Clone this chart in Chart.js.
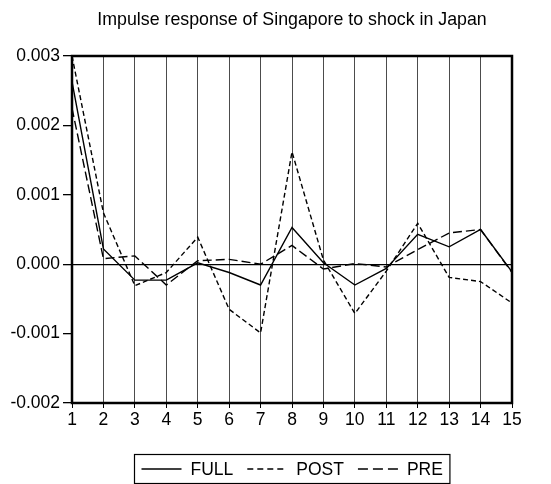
<!DOCTYPE html>
<html>
<head>
<meta charset="utf-8">
<script src="https://cdn.jsdelivr.net/npm/chart.js@4/dist/chart.umd.min.js"></script>
<style>
  html, body { margin: 0; padding: 0; background: #fff; }
  #wrap { width: 551px; height: 484px; position: relative; }
</style>
</head>
<body>
<div id="wrap"><canvas id="irfChart" width="551" height="484"></canvas></div>
<script>
const chartTitle = 'Impulse response of Singapore to shock in Japan';
const periods = ['1', '2', '3', '4', '5', '6', '7', '8', '9', '10', '11', '12', '13', '14', '15'];
const full = [0.00263, 0.00022, -0.00023, -0.00023, 0.00002, -0.00012, -0.00030, 0.00053, 0.00002, -0.00030, -0.00006, 0.00043, 0.00025, 0.00050, -0.00011];
const post = [0.00300, 0.00074, -0.00031, -0.00012, 0.00039, -0.00065, -0.00099, 0.00162, 0.00006, -0.00071, -0.00010, 0.00059, -0.00019, -0.00025, -0.00056];
const pre = [0.00225, 0.00008, 0.00012, -0.00030, 0.00005, 0.00007, 0.00000, 0.00027, -0.00007, 0.00001, -0.00004, 0.00021, 0.00045, 0.00050, -0.00012];
const yTicks = [-0.002, -0.001, 0.000, 0.001, 0.002, 0.003];

const FONT = '"Liberation Sans", Arial, sans-serif';

// title, frame and legend drawn by hand
const decorations = {
    id: 'decorations',
    afterDraw(chart) {
        const ctx = chart.ctx;
        const a = chart.chartArea;
        ctx.save();
        ctx.strokeStyle = '#000';
        ctx.lineWidth = 2.5;
        ctx.strokeRect(a.left, a.top, a.right - a.left, a.bottom - a.top);

        ctx.fillStyle = '#000';
        ctx.font = '17.8px ' + FONT;
        ctx.textAlign = 'center';
        ctx.textBaseline = 'middle';
        ctx.fillText(chartTitle, (a.left + a.right) / 2, 20);

        // legend
        ctx.font = '17.5px ' + FONT;
        const sample = 40, gapText = 9, gapItem = 14, pad = 7;
        const sets = chart.data.datasets;
        let total = 0;
        sets.forEach((ds, i) => {
            total += sample + gapText + ctx.measureText(ds.label).width;
            if (i < sets.length - 1) total += gapItem;
        });
        const boxW = total + pad * 2;
        const boxX = Math.round((a.left + a.right) / 2 - boxW / 2) + 0.5;
        const boxY = 454.5, boxH = 29;
        ctx.lineWidth = 1.2;
        ctx.strokeRect(boxX, boxY, boxW, boxH);
        let x = boxX + pad;
        const ly = boxY + boxH / 2;
        ctx.textAlign = 'left';
        sets.forEach(ds => {
            ctx.beginPath();
            ctx.setLineDash(ds.label === 'POST' ? [6, 4] : ds.label === 'PRE' ? [10, 5] : []);
            ctx.lineWidth = 1.3;
            ctx.moveTo(x, ly);
            ctx.lineTo(x + sample, ly);
            ctx.stroke();
            ctx.setLineDash([]);
            x += sample + gapText;
            ctx.fillText(ds.label, x, ly + 1);
            x += ctx.measureText(ds.label).width + gapItem;
        });
        ctx.restore();
    }
};

const ctx = document.getElementById('irfChart').getContext('2d');
const chart = new Chart(ctx, {
    type: 'line',
    data: {
        labels: periods,
        datasets: [{
            label: 'FULL',
            data: full,
            borderColor: '#000',
            borderWidth: 1.4,
            pointRadius: 0,
            tension: 0
        }, {
            label: 'POST',
            data: post,
            borderColor: '#000',
            borderWidth: 1.4,
            borderDash: [5, 3],
            pointRadius: 0,
            tension: 0
        }, {
            label: 'PRE',
            data: pre,
            borderColor: '#000',
            borderWidth: 1.4,
            borderDash: [9, 4],
            pointRadius: 0,
            tension: 0
        }]
    },
    options: {
        responsive: false,
        animation: false,
        layout: { padding: { top: 56, left: 0, right: 39, bottom: 0 } },
        plugins: {
            legend: { display: false },
            title: { display: false },
            tooltip: { enabled: false }
        },
        scales: {
            x: {
                offset: false,
                afterFit(scale) { scale.height = 81; },
                border: { display: false },
                grid: {
                    color: c => (c.index === 0 || c.index === periods.length - 1) ? 'rgba(0,0,0,0)' : 'rgba(0,0,0,0.7)',
                    lineWidth: 1,
                    tickColor: '#000',
                    tickLength: 5
                },
                ticks: {
                    color: '#000',
                    font: { family: FONT, size: 17.5 },
                    padding: 2,
                    maxRotation: 0,
                    autoSkip: false
                }
            },
            y: {
                min: -0.002,
                max: 0.003,
                afterFit(scale) { scale.width = 72; },
                afterBuildTicks(scale) { scale.ticks = yTicks.map(v => ({ value: v })); },
                border: { display: false },
                grid: {
                    color: c => (c.tick && Math.abs(c.tick.value) < 1e-9) ? '#000' : 'rgba(0,0,0,0)',
                    lineWidth: 1.3,
                    tickColor: '#000',
                    tickLength: 9
                },
                ticks: {
                    color: '#000',
                    font: { family: FONT, size: 17.5 },
                    padding: 3,
                    callback: v => v.toFixed(3)
                }
            }
        }
    },
    plugins: [decorations]
});
</script>
</body>
</html>
